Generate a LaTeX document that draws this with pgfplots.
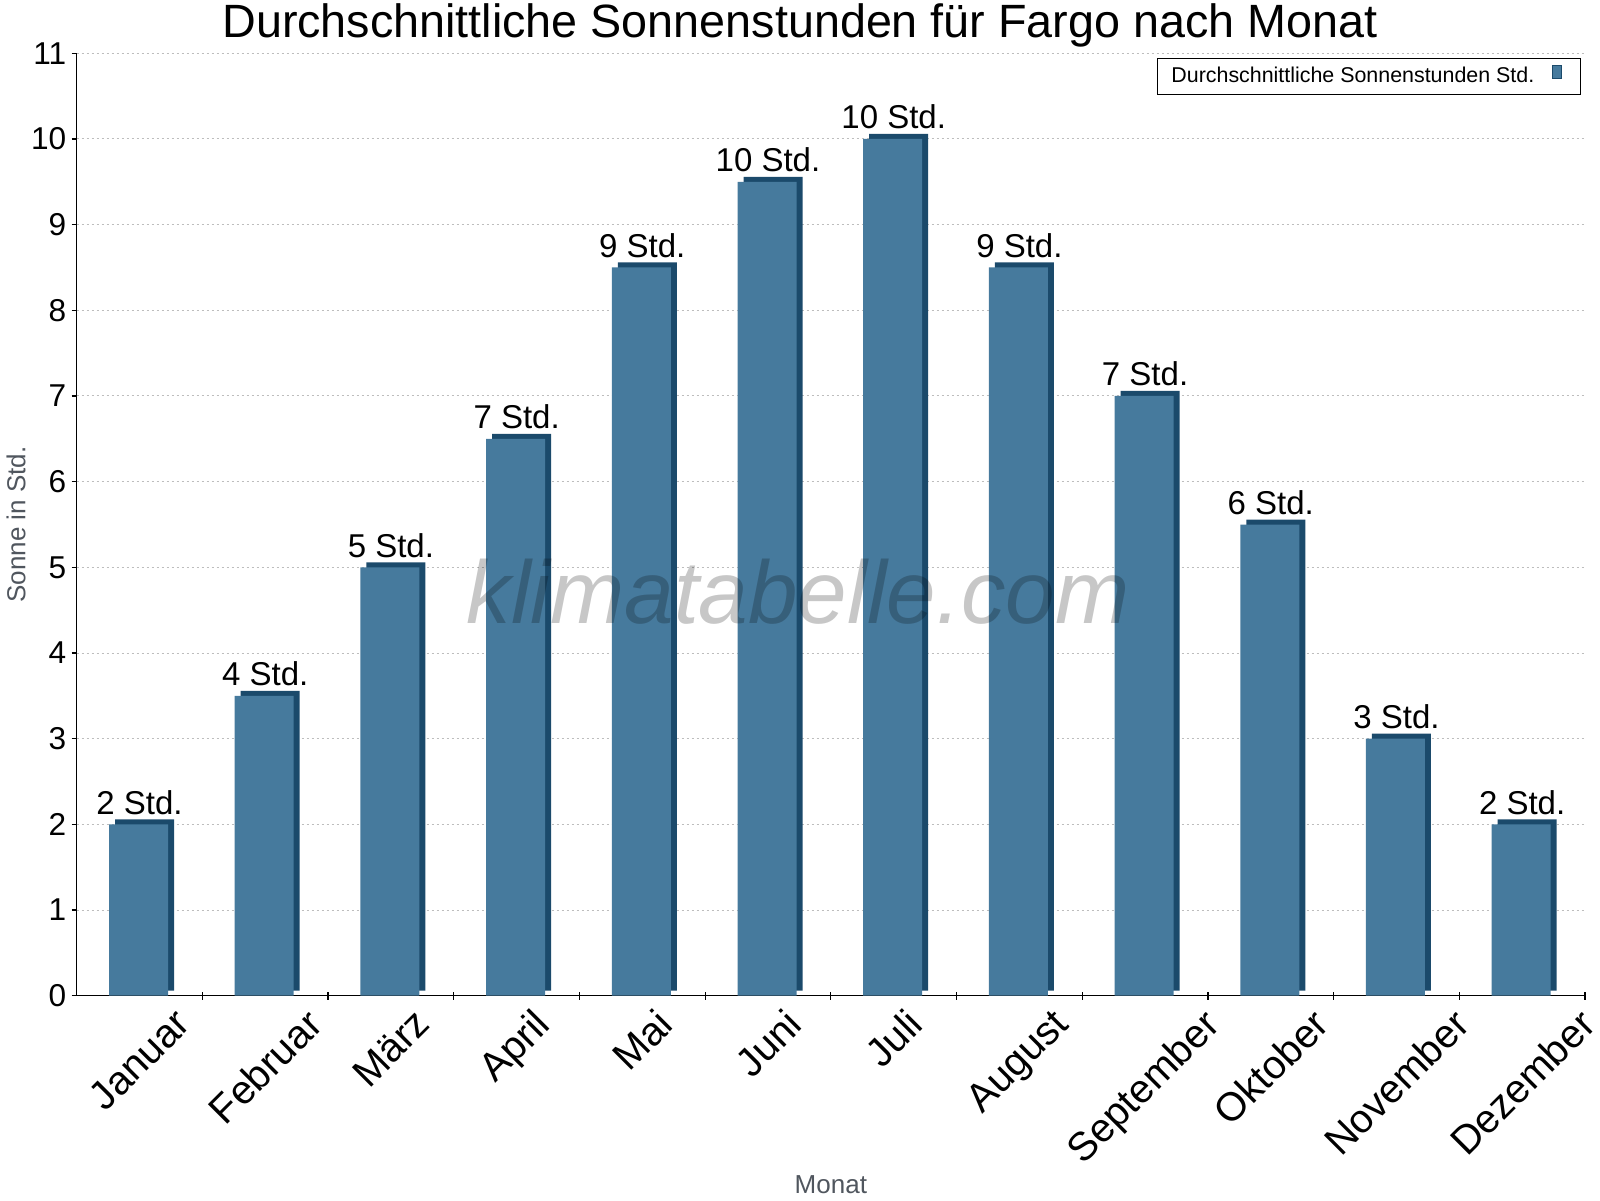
\documentclass[border=0pt]{standalone}
\usepackage{fontspec}
\setmainfont{Liberation Sans}
\usepackage{pgfplots}
\pgfplotsset{compat=1.18}
\usepackage{pgfplotstable}

\definecolor{barblue}{HTML}{467A9D}
\definecolor{bardark}{HTML}{1B4A6B}
\definecolor{labgray}{HTML}{50565E}
\definecolor{gridgray}{HTML}{BDBDBD}

\pgfplotstableread{
x y lab
0 2 2
1 3.5 4
2 5 5
3 6.5 7
4 8.5 9
5 9.5 10
6 10 10
7 8.5 9
8 7 7
9 5.5 6
10 3 3
11 2 2
}\datatable

\newsavebox\lbox
\newlength\lw \newlength\lgy \newlength\la \newlength\lbb
\newcommand\rotlab[1]{%
  \sbox\lbox{#1}%
  \lw=\wd\lbox \advance\lw by \ht\lbox \advance\lw by \dp\lbox
  \lgy=-0.35355\lw \advance\lgy by -3pt
  \la=0.70711\lgy
  \lbb=0.70711\lgy
  \advance\la by -0.5\wd\lbox
  \advance\lbb by -0.5\ht\lbox \advance\lbb by 0.5\dp\lbox
  \rlap{\hspace*{\la}\raisebox{\lbb}[0pt][0pt]{\usebox\lbox}}%
}

\begin{document}
\begin{tikzpicture}
\useasboundingbox (-38.35pt,-102.15pt) rectangle (761.65pt,497.85pt);
\begin{axis}[
  scale only axis,
  width=754.15pt, height=471.2pt,
  xmin=-0.5, xmax=11.5, ymin=0, ymax=11,
  clip=false,
  axis x line*=bottom, axis y line*=left,
  axis line style={-, line width=0.6pt, black},
  tick align=outside,
  major tick length=2.5pt,
  tick style={line width=0.6pt, black},
  ytick={0,...,11},
  /pgf/number format/assume math mode=true,
  yticklabel style={font=\fontsize{15.8}{18}\selectfont, inner sep=0pt, xshift=-2.5pt},
  xtick={0,...,11},
  xtick style={draw=none},
  xticklabels={\rotlab{Januar},\rotlab{Februar},\rotlab{März},\rotlab{April},\rotlab{Mai},\rotlab{Juni},\rotlab{Juli},\rotlab{August},\rotlab{September},\rotlab{Oktober},\rotlab{November},\rotlab{Dezember}},
  xticklabel style={rotate=45, anchor=center, inner sep=0pt, font=\fontsize{20}{24}\selectfont},
  extra x ticks={0.5,1.5,...,11.5},
  extra x tick labels={},
  extra x tick style={grid=none, tick align=center, major tick length=4pt, xtick style={draw=black}},
  ymajorgrids,
  major grid style={gridgray, dash pattern=on 1pt off 1.5pt, line width=0.5pt},
  legend plot pos=right,
  legend style={at={(0.99735,0.99469)}, anchor=north east, draw=black, line width=0.5pt,
    inner xsep=7pt, inner ysep=0pt, column sep=9pt,
    font=\fontsize{10.7}{12.8}\selectfont,
    nodes={inner sep=0pt, inner ysep=4.2pt}},
]
\addplot[ybar, bar width=29.5pt, bar shift=2.5pt, yshift=2.5pt, fill=bardark, draw=none, forget plot]
  table[x=x, y=y] {\datatable};
\addplot[ybar, bar width=29.5pt, bar shift=-0.5pt, fill=barblue, draw=none,
  legend image code/.code={\draw[draw=bardark, fill=barblue, line width=0.4pt] (0pt,-0.8pt) rectangle (4.35pt,5.5pt); \path (6.9pt,0pt);},
  point meta=explicit symbolic,
  nodes near coords={\pgfplotspointmeta\ Std.},
  every node near coord/.append style={font=\fontsize{16.5}{19}\selectfont, anchor=base, inner sep=0pt, yshift=5pt, text=black}]
  table[x=x, y=y, meta=lab] {\datatable};
\addlegendentry{Durchschnittliche Sonnenstunden Std.}

\node[anchor=base, font=\fontsize{23.35}{28}\selectfont] at (axis description cs:0.4795,1.01624) {Durchschnittliche Sonnenstunden für Fargo nach Monat};
\node[anchor=center, rotate=90, font=\fontsize{13}{16}\selectfont, text=labgray] at (axis description cs:-0.04024,0.5) {Sonne in Std.};
\node[anchor=base, font=\fontsize{13}{16}\selectfont, text=labgray] at (axis description cs:0.5,-0.20936) {Monat};
\node[anchor=base, font=\fontsize{44.5}{50}\selectfont\itshape, text=black, opacity=0.22] at (axis description cs:0.4782,0.39548) {klimatabelle.com};
\end{axis}
\end{tikzpicture}
\end{document}
